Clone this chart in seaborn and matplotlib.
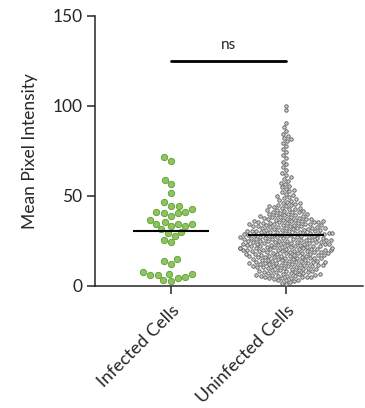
import numpy as np
import pandas as pd
import matplotlib
matplotlib.use("Agg")
import matplotlib.pyplot as plt
import seaborn as sns

# values
categories = ["Infected Cells", "Uninfected Cells"]

infected = [71.3, 69.5, 58.5, 56.3, 51.3, 46.3, 44.2, 44.2, 42.6, 41.1,
            41.1, 40.2, 40.2, 38.7, 36.3, 35.5, 34.4, 34.4, 34.4, 33.1,
            33.1, 31.3, 29.8, 29.4, 27.5, 25.3, 24.0, 14.7, 13.8, 12.0,
            7.5, 6.6, 6.0, 5.7, 6.2, 4.7, 4.2, 3.1, 2.3]

uninfected = [
    # 0-10
    0.8, 1.6, 2.1, 2.4, 2.9, 3.2, 3.3, 3.8, 4.0, 4.2, 4.4, 4.6, 4.7, 4.9, 4.9,
    5.1, 5.2, 5.5, 5.6, 5.9, 6.0, 6.1, 6.4, 6.5, 6.6, 6.9, 7.0, 7.1, 7.4, 7.5,
    7.7, 7.8, 8.0, 8.2, 8.3, 8.5, 8.7, 8.8, 9.1, 9.2, 9.4, 9.6, 9.9,
    # 10-15
    10.0, 10.1, 10.3, 10.4, 10.5, 10.7, 10.8, 10.9, 11.1, 11.2, 11.3, 11.5,
    11.6, 11.7, 11.9, 12.0, 12.1, 12.3, 12.4, 12.6, 12.7, 12.8, 13.0, 13.1,
    13.2, 13.4, 13.5, 13.6, 13.8, 13.9, 14.0, 14.2, 14.3, 14.5, 14.7, 14.9,
    # 15-20
    15.0, 15.1, 15.2, 15.4, 15.5, 15.6, 15.7, 15.8, 16.0, 16.1, 16.2, 16.4,
    16.5, 16.6, 16.7, 16.9, 17.0, 17.1, 17.2, 17.4, 17.5, 17.6, 17.7, 17.9,
    18.0, 18.1, 18.2, 18.4, 18.5, 18.6, 18.7, 18.9, 19.0, 19.1, 19.2, 19.3,
    19.5, 19.6, 19.7, 19.8, 19.9, 19.9,
    # 20-25
    20.0, 20.1, 20.2, 20.3, 20.4, 20.6, 20.7, 20.8, 20.9, 21.0, 21.1, 21.2,
    21.3, 21.5, 21.6, 21.7, 21.8, 21.9, 22.0, 22.1, 22.2, 22.4, 22.5, 22.6,
    22.7, 22.8, 23.0, 23.1, 23.2, 23.3, 23.4, 23.6, 23.7, 23.8, 23.9, 24.0,
    24.1, 24.2, 24.4, 24.5, 24.6, 24.7, 24.8, 24.9,
    # 25-30
    25.0, 25.1, 25.2, 25.4, 25.5, 25.6, 25.7, 25.9, 26.0, 26.1, 26.2, 26.3,
    26.4, 26.5, 26.6, 26.8, 26.9, 27.0, 27.1, 27.2, 27.4, 27.5, 27.6, 27.8,
    27.9, 28.0, 28.2, 28.3, 28.4, 28.5, 28.6, 28.7, 28.8, 28.9, 29.0, 29.1,
    29.3, 29.4, 29.5, 29.6, 29.8, 29.9,
    # 30-35
    30.0, 30.2, 30.3, 30.4, 30.5, 30.6, 30.8, 30.9, 31.1, 31.2, 31.4, 31.5,
    31.7, 31.8, 31.9, 32.0, 32.1, 32.3, 32.4, 32.6, 32.8, 32.9, 33.0, 33.1,
    33.3, 33.5, 33.6, 33.8, 33.9, 34.0, 34.1, 34.3, 34.4, 34.6, 34.8, 34.9,
    # 35-40
    35.0, 35.2, 35.3, 35.4, 35.6, 35.8, 35.9, 36.0, 36.1, 36.3, 36.5, 36.7,
    36.9, 37.0, 37.1, 37.3, 37.5, 37.7, 37.9, 38.1, 38.3, 38.5, 38.8, 39.0,
    39.2, 39.4, 39.7, 39.9,
    # 40-50
    40.1, 40.4, 40.7, 40.9, 41.0, 41.3, 41.6, 41.9, 42.2, 42.5, 42.8, 43.1,
    43.4, 43.7, 44.0, 44.3, 44.6, 44.9,
    45.2, 45.7, 46.1, 46.6, 47.0, 47.5, 48.0, 48.6, 49.1, 49.7,
    # tail
    50.3, 51.0, 51.8, 52.5, 53.2, 54.0, 54.7, 55.5, 56.4, 57.3, 58.2, 59.1,
    60.2, 61.5, 62.8, 64.1, 65.8, 67.4, 69.0, 70.9, 72.6, 74.3, 76.0, 77.8,
    79.5, 80.4, 81.3, 82.2, 83.2, 84.5, 86.0, 88.1, 90.3, 97.7, 100.1,
]

y_ticks = [0, 50, 100, 150]
sig_label = "ns"
sig_height = 125

sns.set_style("ticks")
plt.rcParams["font.family"] = ["Lato", "DejaVu Sans"]

df = pd.DataFrame({
    "group": [categories[0]] * len(infected) + [categories[1]] * len(uninfected),
    "value": infected + uninfected,
})

fig = plt.figure(figsize=(3.65, 4.08), dpi=100)
ax = fig.add_axes([0.260, 0.300, 0.7345, 0.661])

# infected: green dots
sns.swarmplot(data=df[df.group == categories[0]], x="group", y="value",
              order=categories, color="#8cc65a", edgecolor="#5e9a3a",
              linewidth=0.6, size=4.6, ax=ax)
# uninfected: dense grey dots, laid out small then enlarged so they overlap
sns.swarmplot(data=df[df.group == categories[1]], x="group", y="value",
              order=categories, color="#cfcfcf", edgecolor="#585858",
              linewidth=0.6, size=2.5, ax=ax)

# mean lines
for i, vals in enumerate([infected, uninfected]):
    ax.hlines(np.mean(vals), i - 0.33, i + 0.33, color="black", lw=1.5, zorder=5)

# significance bar
ax.plot([0, 1], [sig_height, sig_height], color="black", lw=2)
ax.text(0.5, sig_height + 6.4, sig_label, ha="center", va="baseline", fontsize=11)

ax.set_xlim(-0.661, 1.670)
ax.set_ylim(0, 150)
ax.set_yticks(y_ticks)
ax.set_xlabel("")
ax.set_ylabel("Mean Pixel Intensity", fontsize=12.5, labelpad=10)
ax.tick_params(axis="y", labelsize=12.5, length=6, width=1.1, pad=3)
ax.tick_params(axis="x", labelsize=13, length=6, width=1.1, pad=6)
ax.set_xticks(range(len(categories)))
ax.set_xticklabels(categories, rotation=45, ha="right", rotation_mode="anchor")
for side in ["top", "right"]:
    ax.spines[side].set_visible(False)
for side in ["left", "bottom"]:
    ax.spines[side].set_linewidth(1.1)

# seaborn lays the swarm out at draw time; freeze it, then enlarge the grey dots
fig.canvas.draw()
grey = ax.collections[1]
if "draw" in grey.__dict__:
    del grey.draw
grey.set_sizes([4.4 ** 2])

fig.savefig("out.png", dpi=100)
